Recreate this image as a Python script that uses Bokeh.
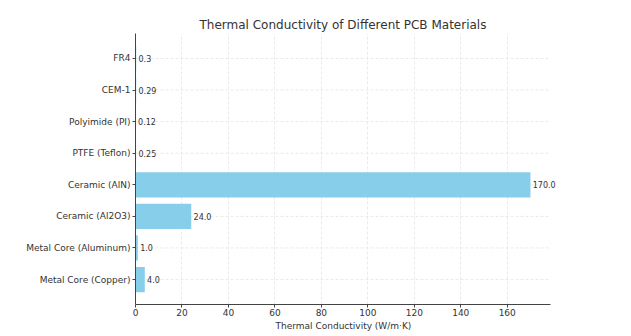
from bokeh.plotting import figure
from bokeh.models import ColumnDataSource, Range1d, FixedTicker, Label, Title
from bokeh.embed import file_html
from bokeh.resources import INLINE

# Materials listed bottom to top, with thermal conductivity in W/m·K
materials = [
    "Metal Core (Copper)",
    "Metal Core (Aluminum)",
    "Ceramic (Al2O3)",
    "Ceramic (AlN)",
    "PTFE (Teflon)",
    "Polyimide (PI)",
    "CEM-1",
    "FR4",
]
conductivity = [4.0, 1.0, 24.0, 170.0, 0.25, 0.12, 0.29, 0.3]
value_labels = ["4.0", "1.0", "24.0", "170.0", "0.25", "0.12", "0.29", "0.3"]
x_ticks = [0, 20, 40, 60, 80, 100, 120, 140, 160]

FONT = "DejaVu Sans"
TEXT = "#333333"
GRID = "#e4e4e4"

positions = list(range(len(materials)))
source = ColumnDataSource(dict(y=positions, value=conductivity))

x_end = max(conductivity) * 1.05   # axis extent with a 5% margin
x_room = x_end * 1.02              # a little extra room so the widest label is not cut

p = figure(
    width=631, height=336,
    x_range=Range1d(0, x_room),
    y_range=Range1d(-0.79, len(materials) - 1 + 0.79),
    output_backend="svg", toolbar_location=None,
    min_border_left=135, min_border_right=73,
    min_border_top=33, min_border_bottom=32,
)

# horizontal grid lines, limited to the axis extent
p.segment(x0=0, x1=x_end, y0=positions, y1=positions,
          line_color=GRID, line_dash="3 2", line_width=0.8)

p.hbar(y="y", right="value", left=0, height=0.8, source=source,
       fill_color="#87CEEB", line_color=None)

# value labels just past the end of each bar
for pos, v, txt in zip(positions, conductivity, value_labels):
    p.add_layout(Label(x=v + 1, y=pos, text=txt,
                       text_font=FONT, text_font_size="8px",
                       text_color=TEXT, text_baseline="middle",
                       text_align="left"))

# title, centred over the axis extent
p.title.text = "Thermal Conductivity of Different PCB Materials"
p.title.align = "left"
p.title.offset = 64
p.title.text_font = FONT
p.title.text_font_size = "12px"
p.title.text_font_style = "normal"
p.title.text_color = TEXT
p.title.standoff = 4

# axes
p.xaxis.ticker = FixedTicker(ticks=x_ticks)
p.xaxis.bounds = (0, x_end)
p.yaxis.ticker = FixedTicker(ticks=positions)
p.yaxis.major_label_overrides = {i: m for i, m in enumerate(materials)}

for ax in (p.xaxis, p.yaxis):
    ax.major_label_text_font = FONT
    ax.major_label_text_font_size = "9px"
    ax.major_label_text_color = TEXT
    ax.axis_line_color = "#444444"
    ax.major_tick_line_color = "#444444"
    ax.major_tick_in = 0
    ax.major_tick_out = 3
    ax.minor_tick_line_color = None
p.xaxis.major_label_standoff = 1
p.yaxis.major_label_standoff = 2

# x-axis title, centred under the axis extent
p.add_layout(Title(text="Thermal Conductivity (W/m·K)", align="left", offset=140,
                   text_font=FONT, text_font_size="9px", text_font_style="normal",
                   text_color=TEXT, standoff=0), "below")

# vertical grid dashed, horizontal grid drawn as segments
p.xgrid.grid_line_color = GRID
p.xgrid.grid_line_dash = "3 2"
p.xgrid.grid_line_width = 0.8
p.ygrid.grid_line_color = None

p.outline_line_color = None
p.background_fill_color = "white"
p.border_fill_color = "white"

open("out.html", "w").write(file_html(p, INLINE))
